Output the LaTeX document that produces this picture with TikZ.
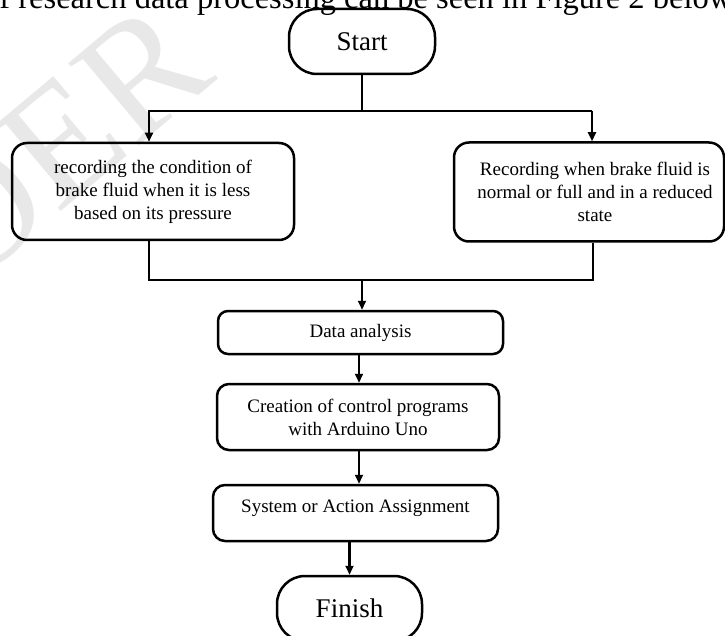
\documentclass[tikz,border=0pt]{standalone}
\usepackage{fontspec}
\setmainfont{Liberation Serif}
\usetikzlibrary{arrows.meta,calc}

\begin{document}
\begin{tikzpicture}[x=1pt,y=-1pt,
  box/.style={draw=black, line width=2.5pt, rounded corners=12pt, align=center,
    font=\fontsize{19}{23}\selectfont, inner sep=0pt},
  term/.style={draw=black, line width=2.5pt, rounded corners=28pt,
    font=\fontsize{27}{32}\selectfont, inner sep=0pt},
  conn/.style={line width=2.5pt},
  arr/.style={line width=2.1pt, -{Triangle[length=9pt,width=8pt]}},
]
\useasboundingbox (0,0) rectangle (725,636);

% watermark
\node[anchor=base west, rotate=40, inner sep=0pt, text=gray!18,
  font=\fontsize{165}{170}\selectfont] (wm) at (-125,368) {IJOER};

% header line (cut by the page edge)
\node[anchor=base west, inner sep=0pt, font=\fontsize{32.5}{36}\selectfont]
  (hdr) at (-17,9) {of research data processing can be seen in Figure 2 below.};

% nodes
\node[term, minimum width=146pt, minimum height=65pt] (start) at (362,41.5) {Start};

\node[box, rounded corners=15pt, minimum width=282pt, minimum height=97pt]
  (left) at (153,191.5) {recording the condition of\\brake fluid when it is less\\based on its pressure};

\node[box, rounded corners=15pt, minimum width=270pt, minimum height=99pt]
  (right) at (589,192) {\hspace*{12pt}Recording when brake fluid is\\\hspace*{12pt}normal or full and in a reduced\\\hspace*{12pt}state};

\node[box, rounded corners=10pt, minimum width=285pt, minimum height=43pt]
  (data) at (360.5,332.5) {Data analysis};

\node[box, minimum width=282pt, minimum height=66pt]
  (creation) at (358,417) {Creation of control programs\\with Arduino Uno};

\node[box, minimum width=285pt, minimum height=56pt]
  (system) at (355.5,513) {\raisebox{5pt}[\height][\depth]{System or Action Assignment}};

\node[term, minimum width=145pt, minimum height=65pt] (finish) at (349.5,608.5) {Finish};

% connectors
\coordinate (j1) at (362,111);
\coordinate (j2) at (362,280);

\draw[conn] (start.south) -- (j1);
\draw[conn] ([xshift=-5pt]left.north |- j1) -- ([xshift=3pt]right.north |- j1);
\draw[arr] ([xshift=-4pt]left.north |- j1) -- ([xshift=-4pt]left.north);
\draw[arr] ([xshift=3pt]right.north |- j1) -- ([xshift=3pt]right.north);

\draw[conn] ([xshift=-4pt]left.south) |- (j2) -| ([xshift=4pt]right.south);
\draw[arr] (j2) -- (j2 |- data.north);
\draw[arr] ([xshift=1pt]creation.north |- data.south) -- ([xshift=1pt]creation.north);
\draw[arr] ([xshift=1pt]creation.south) -- ([xshift=1pt]creation.south |- system.north);
\draw[arr] (finish.north |- system.south) -- (finish.north);
\end{tikzpicture}
\end{document}
